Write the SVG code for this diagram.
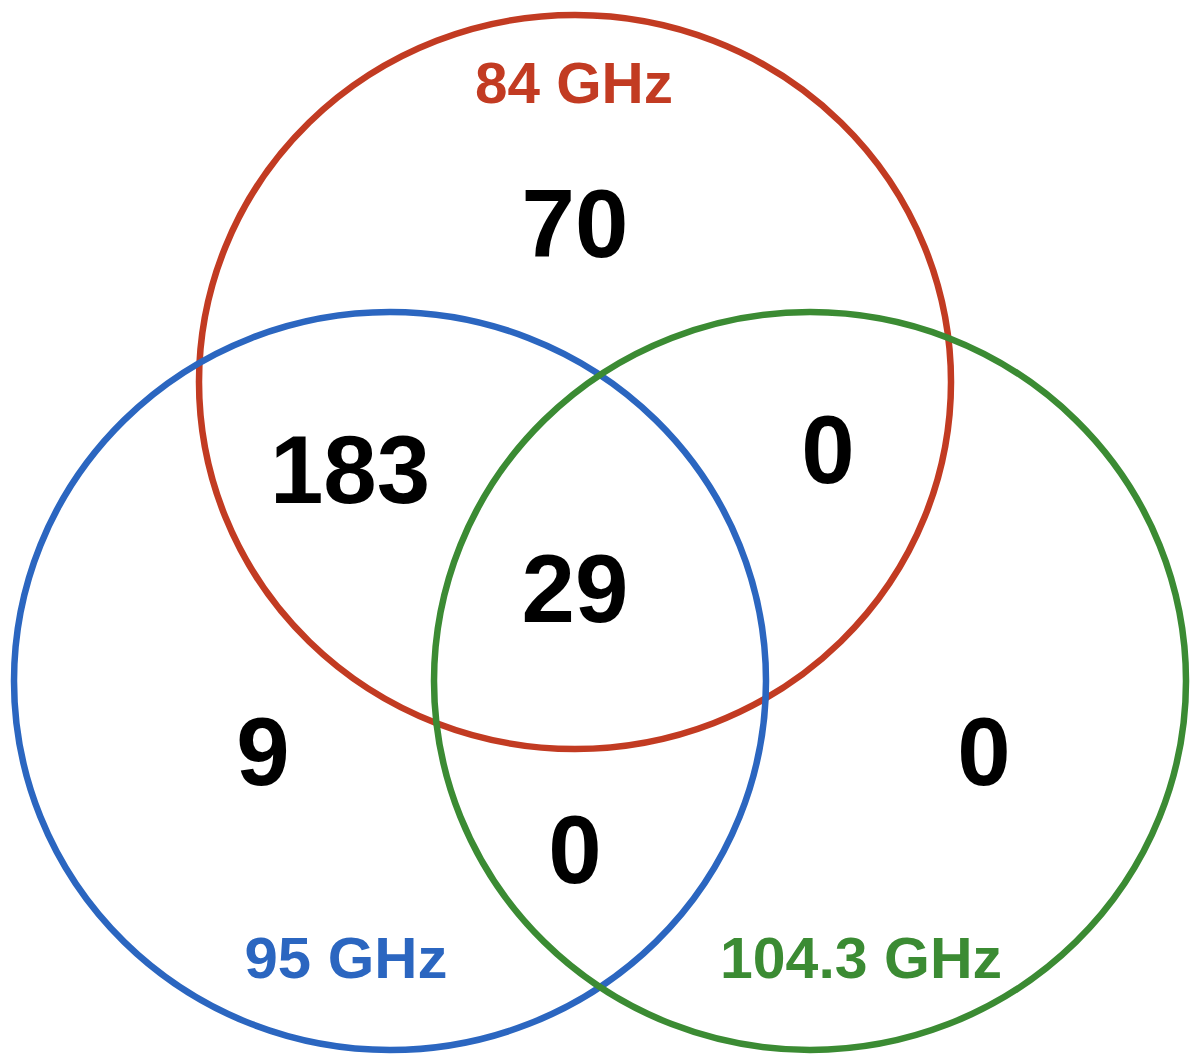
<svg xmlns="http://www.w3.org/2000/svg" width="1200" height="1063" viewBox="0 0 1200 1063">
<style>
.ring{fill:none;stroke-width:6.5}
.num{font-family:"Liberation Sans",Arial,sans-serif;font-weight:bold;font-size:96px;fill:#000;text-anchor:middle}
.lbl{font-family:"Liberation Sans",Arial,sans-serif;font-weight:bold;font-size:58px;text-anchor:middle}
</style>
<rect width="1200" height="1063" fill="#fff"/>
<g id="set-84">
<ellipse class="ring" cx="575" cy="382" rx="376" ry="367" stroke="#C23B22"/>
<text class="lbl" x="574" y="103" fill="#C23B22" textLength="198" lengthAdjust="spacingAndGlyphs">84 GHz</text>
</g>
<g id="set-95">
<ellipse class="ring" cx="390" cy="681" rx="376" ry="369" stroke="#2B66C0"/>
<text class="lbl" x="346" y="978" fill="#2B66C0" textLength="203" lengthAdjust="spacingAndGlyphs">95 GHz</text>
</g>
<g id="set-104">
<ellipse class="ring" cx="810" cy="681" rx="376" ry="369" stroke="#3B8B33"/>
<text class="lbl" x="861" y="978" fill="#3B8B33" textLength="282" lengthAdjust="spacingAndGlyphs">104.3 GHz</text>
</g>
<g id="counts">
<text class="num" x="575" y="257">70</text>
<text class="num" x="350" y="503">183</text>
<text class="num" x="828" y="483">0</text>
<text class="num" x="575" y="622">29</text>
<text class="num" x="263" y="785">9</text>
<text class="num" x="984" y="785">0</text>
<text class="num" x="575" y="883">0</text>
</g>
</svg>
